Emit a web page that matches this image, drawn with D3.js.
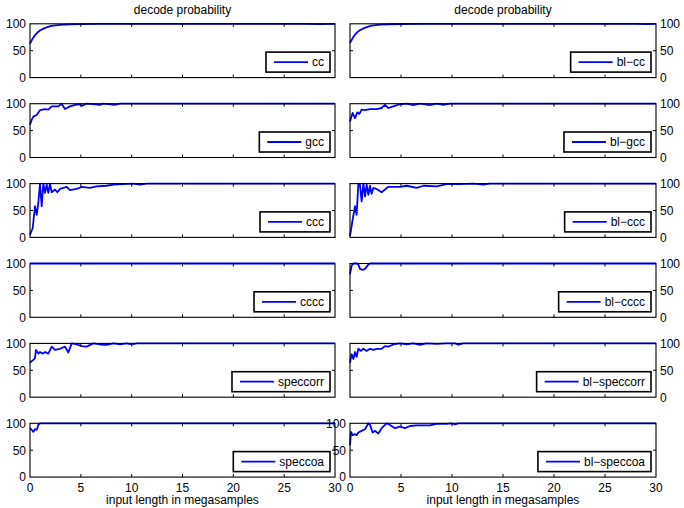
<!DOCTYPE html>
<html lang="en">
<head>
<meta charset="UTF-8">
<title>decode probability</title>
<script src="https://cdnjs.cloudflare.com/ajax/libs/d3/7.8.5/d3.min.js"></script>
<style>
  body { margin: 0; background: #fff; }
  text { font-family: "Liberation Sans", Arial, Helvetica, sans-serif; fill: #000; }
</style>
</head>
<body>
<script>
// decode probability (%) vs input length (megasamples), one series per method
const cc = [[0,63],[0.1,67],[0.25,72],[0.5,79],[0.75,84],[1,88],[1.5,92.5],[2,95.5],[2.5,97],[3,98],[4,99],[5,99.5],[7,99.8],[10,100],[20,100],[27,99.8],[28.5,99.3],[30,100]];
const gcc = [[0,61],[0.16,70],[0.33,76],[0.66,79],[0.98,88],[1.48,90],[1.8,89],[2.13,95],[2.79,95],[3.11,100],[3.44,90],[3.93,95],[4.43,98],[4.92,99],[5.08,96],[5.57,100],[6.89,98],[7.2,100],[8.36,98],[8.85,100],[30,100]];
const ccc = [[0,5],[0.26,17],[0.49,58],[0.66,42],[0.82,64],[0.98,100],[1.15,58],[1.31,100],[1.48,83],[1.64,98],[1.8,83],[1.97,100],[2.13,84],[2.46,89],[2.69,84],[2.95,90],[3.28,92],[3.61,94],[3.93,88],[4.59,90],[5.08,94],[5.9,92],[6.56,95],[7.54,96],[8.2,98],[9.18,99],[10.16,100],[10.82,98],[11.48,100],[30,100]];
const cccc = [[0,100],[30,100]];
const speccorr = [[0,64],[0.16,67],[0.33,69],[0.49,73],[0.59,88],[0.82,81],[0.98,84],[1.25,81],[1.48,84],[1.8,81],[2.13,94],[2.46,88],[2.95,90],[3.44,94],[3.77,83],[4.1,100],[4.59,98],[5.08,95],[5.57,94],[6.23,100],[6.89,98],[7.54,97.5],[8.2,100],[8.85,98],[9.5,100],[10,98],[10.5,100],[30,100]];
const speccoa = [[0,91],[0.16,88],[0.33,84],[0.49,89],[0.66,88],[0.82,97],[0.98,100],[30,100]];

const blCc = [[0,64],[0.1,68],[0.25,73],[0.5,80],[0.75,85],[1,88.5],[1.5,93],[2,96],[2.5,97.5],[3,98.5],[4,99.2],[5,99.6],[7,99.8],[10,100],[20,100],[28,99.8],[29,99.4],[30,100]];
const blGcc = [[0,67],[0.26,83],[0.49,73],[0.72,84],[0.92,81],[1.14,89],[1.47,88],[1.96,90],[2.61,90],[3.1,92],[3.43,98],[3.76,92],[4.25,95],[4.9,99],[5.56,100],[6.2,97.5],[6.86,100],[7.84,97.5],[8.5,100],[9.15,98],[9.8,100],[30,100]];
const blCcc = [[0,2],[0.26,33],[0.49,58],[0.65,42],[0.82,100],[0.98,98],[1.14,67],[1.31,100],[1.47,76],[1.63,98],[1.8,79],[1.96,96],[2.12,81],[2.29,92],[2.61,90],[3.1,84],[3.76,94],[4.9,94],[5.56,96],[6.54,92],[7.19,96],[8.5,95],[9.48,99],[10.78,99],[12.09,100],[13.07,98],[13.7,100],[30,100]];
const blCccc = [[0,80],[0.16,96],[0.33,100],[0.65,100],[0.82,98],[0.98,90],[1.24,88],[1.47,90],[1.8,98],[1.96,100],[30,100]];
const blSpeccorr = [[0,64],[0.16,80],[0.33,71],[0.49,84],[0.65,75],[0.82,90],[1.05,86],[1.31,90],[1.63,86],[1.96,90],[2.29,88],[2.61,90],[3.1,90],[3.43,95],[3.76,94],[4.25,98],[4.9,100],[5.56,98],[6.2,100],[6.86,97.5],[7.52,100],[8.5,99],[9.48,100],[10.29,100],[10.62,97.5],[11.1,100],[30,100]];
const blSpeccoa = [[0,59],[0.1,84],[0.26,78],[0.49,80],[0.65,78],[0.82,83],[1.14,86],[1.47,89],[1.8,100],[1.96,97],[2.22,83],[2.45,86],[2.78,81],[3.1,91],[3.59,100],[3.92,97],[4.41,91],[4.9,94],[5.39,91],[5.88,95],[6.54,96],[7.84,96],[8.5,99],[9.48,99],[9.97,100],[10.29,98],[10.62,100],[30,100]];

const leftNames = ["cc", "gcc", "ccc", "cccc", "speccorr", "speccoa"];
const rightNames = ["bl\u2212cc", "bl\u2212gcc", "bl\u2212ccc", "bl\u2212cccc", "bl\u2212speccorr", "bl\u2212speccoa"];
const leftSeries = [cc, gcc, ccc, cccc, speccorr, speccoa];
const rightSeries = [blCc, blGcc, blCcc, blCccc, blSpeccorr, blSpeccoa];

const xTicks = [0, 5, 10, 15, 20, 25, 30];
const yTicks = [0, 50, 100];

const W = 684, H = 508;
const cols = [{x0: 30, x1: 335}, {x0: 350, x1: 656}];
const rowTop = i => 23.8 + i * 79.9;
const rowH = 53.8;
const fs = 12;

const svg = d3.select("body").append("svg").attr("width", W).attr("height", H);

function panel(col, row, data, name, labelSide, last) {
  const c = cols[col];
  const top = rowTop(row), bot = top + rowH;
  const x = d3.scaleLinear().domain([0, 30]).range([c.x0, c.x1]);
  const y = d3.scaleLinear().domain([0, 100]).range([bot, top]);
  const g = svg.append("g");

  g.append("rect").attr("x", c.x0).attr("y", top).attr("width", c.x1 - c.x0).attr("height", rowH)
    .attr("fill", "#fff");

  // series line
  const line = d3.line().x(d => x(d[0])).y(d => y(d[1]));
  g.append("path").datum(data).attr("d", line)
    .attr("fill", "none").attr("stroke", "#0000ff").attr("stroke-width", 1.8)
    .attr("stroke-linejoin", "round");

  // inward ticks on all four sides
  const tl = 3;
  xTicks.slice(1, -1).forEach(t => {
    g.append("line").attr("x1", x(t)).attr("x2", x(t)).attr("y1", bot).attr("y2", bot - tl).attr("stroke", "#000");
    g.append("line").attr("x1", x(t)).attr("x2", x(t)).attr("y1", top).attr("y2", top + tl).attr("stroke", "#000");
  });
  g.append("line").attr("x1", c.x0).attr("x2", c.x0 + tl).attr("y1", y(50)).attr("y2", y(50)).attr("stroke", "#000");
  g.append("line").attr("x1", c.x1).attr("x2", c.x1 - tl).attr("y1", y(50)).attr("y2", y(50)).attr("stroke", "#000");

  // box
  g.append("rect").attr("x", c.x0).attr("y", top).attr("width", c.x1 - c.x0).attr("height", rowH)
    .attr("fill", "none").attr("stroke", "#000").attr("stroke-width", 1.1);

  // y tick labels
  yTicks.forEach(t => {
    g.append("text")
      .attr("x", labelSide === "left" ? c.x0 - 4 : c.x1 + 4)
      .attr("y", y(t)).attr("dy", "0.36em")
      .attr("text-anchor", labelSide === "left" ? "end" : "start")
      .attr("font-size", fs).text(t);
  });

  // x tick labels only on the bottom row
  if (last) {
    xTicks.forEach(t => {
      g.append("text").attr("x", x(t)).attr("y", bot + 14.5)
        .attr("text-anchor", "middle").attr("font-size", fs).text(t);
    });
    g.append("text").attr("x", (c.x0 + c.x1) / 2).attr("y", bot + 27)
      .attr("text-anchor", "middle").attr("font-size", fs).text("input length in megasamples");
  }

  if (row === 0) {
    g.append("text").attr("x", (c.x0 + c.x1) / 2).attr("y", top - 10)
      .attr("text-anchor", "middle").attr("font-size", fs).text("decode probability");
  }

  // legend
  const lg = g.append("g");
  const lbl = lg.append("text").attr("font-size", fs).text(name);
  const tw = lbl.node().getComputedTextLength();
  const bw = 8 + 34 + 4 + tw + 6, bh = 20;
  const bx = c.x1 - 5 - bw, by = bot - 5.5 - bh;
  lg.insert("rect", "text").attr("x", bx).attr("y", by).attr("width", bw).attr("height", bh)
    .attr("fill", "#fff").attr("stroke", "#000").attr("stroke-width", 1.6);
  lg.append("line").attr("x1", bx + 8).attr("x2", bx + 42).attr("y1", by + bh / 2).attr("y2", by + bh / 2)
    .attr("stroke", "#0000ff").attr("stroke-width", 1.8);
  lbl.attr("x", bx + 46).attr("y", by + bh / 2).attr("dy", "0.36em");
}

leftSeries.forEach((d, i) => panel(0, i, d, leftNames[i], "left", i === 5));
rightSeries.forEach((d, i) => panel(1, i, d, rightNames[i], i === 5 ? "left" : "right", i === 5));
</script>
</body>
</html>
